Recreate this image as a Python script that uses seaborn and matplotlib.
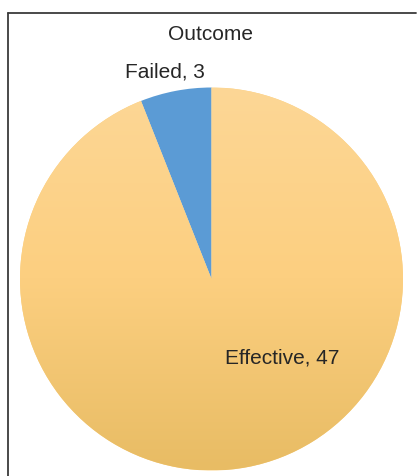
import matplotlib
matplotlib.use("Agg")
import matplotlib.pyplot as plt
import seaborn as sns
import numpy as np
from matplotlib.colors import LinearSegmentedColormap
from matplotlib.lines import Line2D

sns.set_theme(style="white")
plt.rcParams['font.family'] = ['Liberation Sans', 'DejaVu Sans']

categories = ["Effective", "Failed"]
counts = [47, 3]
title = "Outcome"

W, H = 417, 476
fig = plt.figure(figsize=(W / 100, H / 100), dpi=100)
fig.patch.set_facecolor("white")

# frame lines (left and top)
fig.add_artist(Line2D([7.5 / W, 7.5 / W], [0, 1 - 12.5 / H], transform=fig.transFigure,
                      color="#3a3a3a", lw=1.3))
fig.add_artist(Line2D([7.5 / W, 416 / W], [1 - 12.5 / H, 1 - 12.5 / H], transform=fig.transFigure,
                      color="#3a3a3a", lw=1.3))

cx, cy, r = 211.5, 279, 191.5
ax = fig.add_axes([(cx - r) / W, (H - cy - r) / H, 2 * r / W, 2 * r / H])

colors = ["#FCD07F", "#5B9BD5"]
labels = [f"{c}, {v}" for c, v in zip(categories, counts)]
wedges, texts = ax.pie(counts, labels=labels, colors=colors, startangle=90,
                       counterclock=False, radius=1, labeldistance=1.1,
                       wedgeprops=dict(linewidth=0),
                       textprops=dict(fontsize=15, color="#262626"))
ax.set_xlim(-1, 1)
ax.set_ylim(-1, 1)
ax.set_aspect("equal")
ax.axis("off")

# vertical gradient for the Effective wedge
cmap = LinearSegmentedColormap.from_list("grad", ["#E8BC64", "#FCCF80", "#FDD796"])
grad = np.linspace(0, 1, 256).reshape(-1, 1)
im = ax.imshow(grad, extent=[-1, 1, -1, 1], origin="lower", cmap=cmap,
               aspect="auto", zorder=wedges[0].get_zorder() + 0.1)
im.set_clip_path(wedges[0])
ax.set_xlim(-1, 1)
ax.set_ylim(-1, 1)

# label placement
texts[0].set_position(((282 - cx) / r, -(358 - cy) / r))
texts[0].set_ha("center"); texts[0].set_va("center")
texts[0].set_zorder(5)
texts[1].set_position(((165 - cx) / r, (cy - 72) / r))
texts[1].set_ha("center"); texts[1].set_va("center")

fig.text(211 / W, 1 - 34 / H, title, ha="center", va="center", fontsize=15, color="#262626")

fig.savefig("out.png", dpi=100)
